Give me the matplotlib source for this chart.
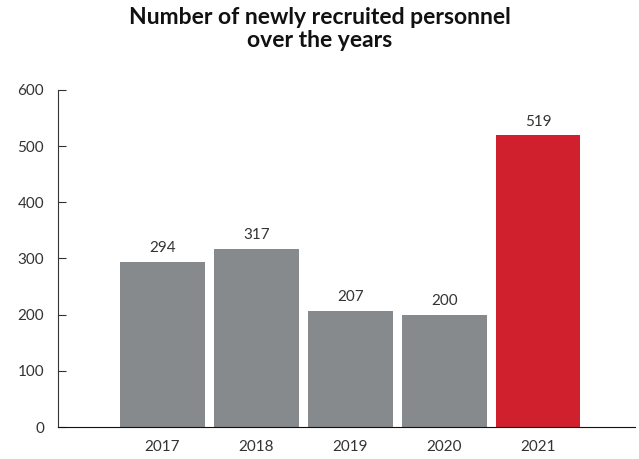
import matplotlib
matplotlib.use('Agg')
import matplotlib.pyplot as plt
import numpy as np

years = ['2017', '2018', '2019', '2020', '2021']
recruits = [294, 317, 207, 200, 519]
bar_colors = ['#878a8c', '#878a8c', '#878a8c', '#878a8c', '#d0202d']

plt.rcParams['font.family'] = ['Lato', 'DejaVu Sans']

fig = plt.figure(figsize=(6.39, 4.59), dpi=100)
ax = fig.add_axes([0.0908, 0.0697, 0.9029, 0.7343])

x = np.arange(len(years))
bars = ax.bar(x, recruits, width=0.9, color=bar_colors)

# value labels above bars
for b, v in zip(bars, recruits):
    ax.text(b.get_x() + b.get_width() / 2, v + 12, str(v),
            ha='center', va='bottom', fontsize=11, color='#333333')

ax.set_xlim(-1.11, 5.03)
ax.set_ylim(0, 600)
ax.set_xticks(x)
ax.set_xticklabels(years)
ax.set_yticks(np.arange(0, 601, 100))

ax.spines['top'].set_visible(False)
ax.spines['right'].set_visible(False)
ax.spines['left'].set_color('#333333')
ax.spines['bottom'].set_color('#111111')
ax.tick_params(axis='y', direction='in', length=6, color='#333333',
               labelsize=11, labelcolor='#333333', pad=10)
ax.tick_params(axis='x', length=0, labelsize=11, labelcolor='#333333', pad=9)

fig.suptitle('Number of newly recruited personnel\nover the years',
             x=0.5, y=0.985, fontsize=16.5, fontweight='bold', color='#111111',
             linespacing=1.15)

fig.savefig('out.png', dpi=100)
